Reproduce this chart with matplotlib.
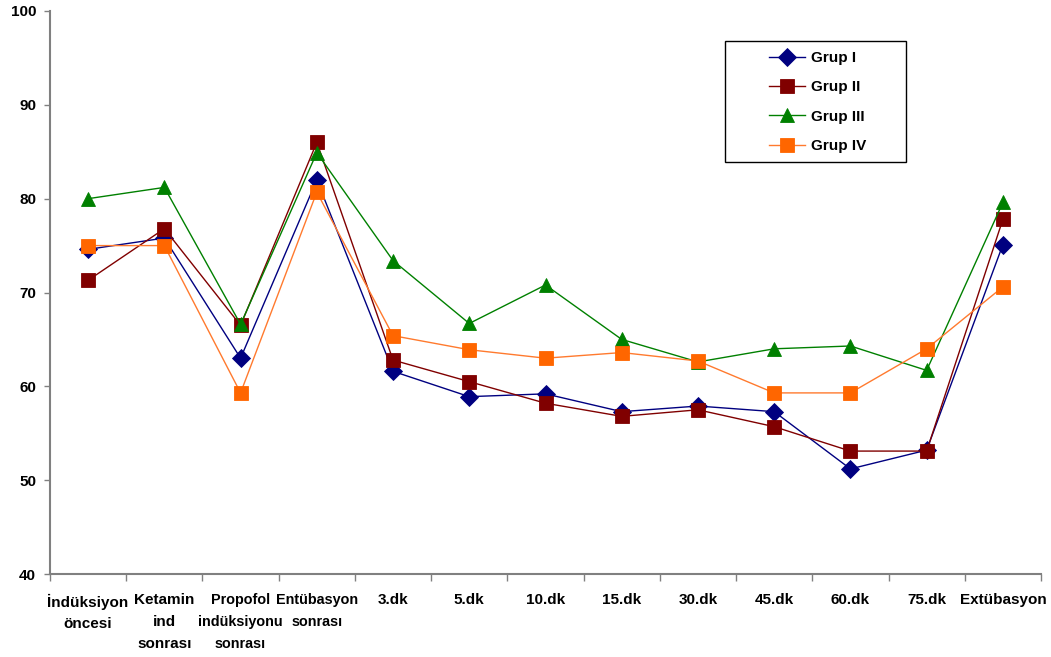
import numpy as np
import matplotlib.pyplot as plt
from matplotlib.patches import Rectangle

plt.rcParams['font.family'] = ['Liberation Sans', 'DejaVu Sans']
plt.rcParams['font.weight'] = 'bold'

# time points
categories = ['İndüksiyon\nöncesi', 'Ketamin\nind\nsonrası', 'Propofol\nindüksiyonu\nsonrası',
              'Entübasyon\nsonrası', '3.dk', '5.dk', '10.dk', '15.dk', '30.dk', '45.dk',
              '60.dk', '75.dk', 'Extübasyon']

grup1 = [74.6, 75.8, 63.0, 82.0, 61.6, 58.9, 59.2, 57.3, 57.9, 57.3, 51.2, 53.2, 75.1]
grup2 = [71.3, 76.8, 66.5, 86.0, 62.8, 60.5, 58.2, 56.8, 57.5, 55.7, 53.1, 53.1, 77.8]
grup3 = [80.0, 81.2, 66.6, 84.9, 73.4, 66.7, 70.8, 65.0, 62.6, 64.0, 64.3, 61.7, 79.6]
grup4 = [75.0, 75.0, 59.3, 80.7, 65.4, 63.9, 63.0, 63.6, 62.7, 59.3, 59.3, 64.0, 70.6]

series = [
    ('Grup I', grup1, '#000080', '#000080', 'D', 9.0),
    ('Grup II', grup2, '#800000', '#800000', 's', 9.5),
    ('Grup III', grup3, '#008000', '#008000', '^', 10.0),
    ('Grup IV', grup4, '#FF7A2E', '#FF6600', 's', 10.0),
]

fig = plt.figure(figsize=(10.51, 6.57), dpi=100)
ax = fig.add_axes([50 / 1051, 1 - 574 / 657, 991 / 1051, 563 / 657])

x = np.arange(len(categories))
for name, vals, lc, mc, mk, ms in series:
    ax.plot(x, vals, color=lc, lw=1.0, marker=mk, markersize=ms,
            markerfacecolor=mc, markeredgecolor=mc, markeredgewidth=0.6, label=name)

ax.set_xlim(-0.5, len(categories) - 0.5)
ax.set_ylim(40, 100)
ax.set_yticks(range(40, 101, 10))
ax.tick_params(axis='y', labelsize=11, length=4, width=1, color='#808080', pad=6)

# tick marks between categories, labels under each category
ax.set_xticks(np.arange(len(categories) + 1) - 0.5)
ax.set_xticklabels([])
ax.tick_params(axis='x', which='major', length=5, width=1, color='#808080')
ax.set_xticks(x, minor=True)
labels = ax.set_xticklabels(categories, minor=True, fontsize=11, linespacing=1.7,
                            va='top', ha='center', multialignment='center')
# the two long neighbouring labels are a touch smaller so they don't collide
for lab in labels[2:4]:
    lab.set_fontsize(10.4)
ax.tick_params(axis='x', which='minor', length=0, pad=14)

for side in ['top', 'right']:
    ax.spines[side].set_visible(False)
for side in ['left', 'bottom']:
    ax.spines[side].set_color('#808080')
    ax.spines[side].set_linewidth(1.5)

# legend box
ax.add_patch(Rectangle((675 / 991, 412 / 563), 181 / 991, 121 / 563,
                       transform=ax.transAxes, fill=False, edgecolor='black',
                       linewidth=1.0, clip_on=False))
ax.legend(loc='center left', bbox_to_anchor=(711 / 991, 472 / 563), frameon=False,
          borderpad=0, handlelength=2.4, handletextpad=0.35,
          labelspacing=1.0, prop={'weight': 'bold', 'size': 11})

fig.savefig('out.png', dpi=100)
